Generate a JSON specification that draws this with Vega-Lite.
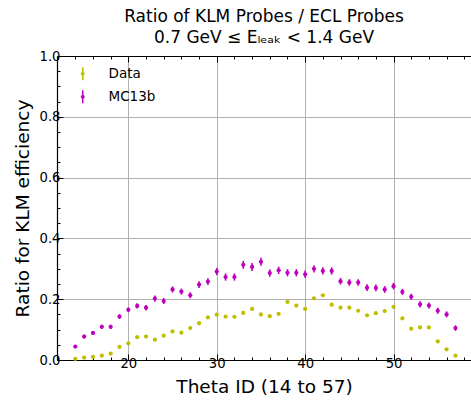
{
  "$schema": "https://vega.github.io/schema/vega-lite/v6.json",
  "autosize": {"type": "none"},
  "padding": {"left": 57, "top": 56, "right": 0, "bottom": 45},
  "width": 414,
  "height": 304,
  "title": {
    "text": ["Ratio of KLM Probes / ECL Probes", "0.7 GeV  ≤ Eₗₑₐₖ < 1.4 GeV"],
    "font": "DejaVu Sans",
    "fontSize": 17,
    "fontWeight": "normal",
    "color": "#000000",
    "anchor": "middle",
    "lineHeight": 21,
    "offset": 2
  },
  "config": {
    "view": {"stroke": null},
    "font": "DejaVu Sans",
    "legend": {
      "symbolType": "M-0.12,-1L0.12,-1L0.12,1L-0.12,1Z M0.3,0A0.3,0.3 0 1 1 -0.3,0A0.3,0.3 0 1 1 0.3,0Z",
      "symbolSize": 169,
      "symbolStrokeWidth": 0,
      "labelFont": "DejaVu Sans",
      "labelFontSize": 13.5,
      "labelColor": "#000000",
      "labelOffset": 19,
      "rowPadding": 8,
      "padding": 0
    }
  },
  "data": {
    "values": [
      {"theta": 14, "ratio": 0.004, "err": 0.002, "sample": "Data"},
      {"theta": 15, "ratio": 0.008, "err": 0.002, "sample": "Data"},
      {"theta": 16, "ratio": 0.010, "err": 0.002, "sample": "Data"},
      {"theta": 17, "ratio": 0.014, "err": 0.002, "sample": "Data"},
      {"theta": 18, "ratio": 0.021, "err": 0.003, "sample": "Data"},
      {"theta": 19, "ratio": 0.043, "err": 0.003, "sample": "Data"},
      {"theta": 20, "ratio": 0.055, "err": 0.003, "sample": "Data"},
      {"theta": 21, "ratio": 0.075, "err": 0.003, "sample": "Data"},
      {"theta": 22, "ratio": 0.077, "err": 0.003, "sample": "Data"},
      {"theta": 23, "ratio": 0.067, "err": 0.003, "sample": "Data"},
      {"theta": 24, "ratio": 0.080, "err": 0.003, "sample": "Data"},
      {"theta": 25, "ratio": 0.094, "err": 0.003, "sample": "Data"},
      {"theta": 26, "ratio": 0.090, "err": 0.003, "sample": "Data"},
      {"theta": 27, "ratio": 0.105, "err": 0.003, "sample": "Data"},
      {"theta": 28, "ratio": 0.121, "err": 0.003, "sample": "Data"},
      {"theta": 29, "ratio": 0.140, "err": 0.003, "sample": "Data"},
      {"theta": 30, "ratio": 0.149, "err": 0.003, "sample": "Data"},
      {"theta": 31, "ratio": 0.143, "err": 0.003, "sample": "Data"},
      {"theta": 32, "ratio": 0.142, "err": 0.003, "sample": "Data"},
      {"theta": 33, "ratio": 0.155, "err": 0.003, "sample": "Data"},
      {"theta": 34, "ratio": 0.168, "err": 0.003, "sample": "Data"},
      {"theta": 35, "ratio": 0.150, "err": 0.003, "sample": "Data"},
      {"theta": 36, "ratio": 0.144, "err": 0.003, "sample": "Data"},
      {"theta": 37, "ratio": 0.152, "err": 0.003, "sample": "Data"},
      {"theta": 38, "ratio": 0.191, "err": 0.003, "sample": "Data"},
      {"theta": 39, "ratio": 0.179, "err": 0.003, "sample": "Data"},
      {"theta": 40, "ratio": 0.168, "err": 0.003, "sample": "Data"},
      {"theta": 41, "ratio": 0.203, "err": 0.003, "sample": "Data"},
      {"theta": 42, "ratio": 0.213, "err": 0.003, "sample": "Data"},
      {"theta": 43, "ratio": 0.182, "err": 0.003, "sample": "Data"},
      {"theta": 44, "ratio": 0.172, "err": 0.003, "sample": "Data"},
      {"theta": 45, "ratio": 0.172, "err": 0.003, "sample": "Data"},
      {"theta": 46, "ratio": 0.162, "err": 0.003, "sample": "Data"},
      {"theta": 47, "ratio": 0.147, "err": 0.003, "sample": "Data"},
      {"theta": 48, "ratio": 0.154, "err": 0.003, "sample": "Data"},
      {"theta": 49, "ratio": 0.161, "err": 0.003, "sample": "Data"},
      {"theta": 50, "ratio": 0.175, "err": 0.003, "sample": "Data"},
      {"theta": 51, "ratio": 0.137, "err": 0.003, "sample": "Data"},
      {"theta": 52, "ratio": 0.103, "err": 0.003, "sample": "Data"},
      {"theta": 53, "ratio": 0.107, "err": 0.003, "sample": "Data"},
      {"theta": 54, "ratio": 0.107, "err": 0.003, "sample": "Data"},
      {"theta": 55, "ratio": 0.061, "err": 0.003, "sample": "Data"},
      {"theta": 56, "ratio": 0.035, "err": 0.002, "sample": "Data"},
      {"theta": 57, "ratio": 0.014, "err": 0.002, "sample": "Data"},
      {"theta": 14, "ratio": 0.044, "err": 0.005, "sample": "MC13b"},
      {"theta": 15, "ratio": 0.077, "err": 0.006, "sample": "MC13b"},
      {"theta": 16, "ratio": 0.089, "err": 0.006, "sample": "MC13b"},
      {"theta": 17, "ratio": 0.109, "err": 0.007, "sample": "MC13b"},
      {"theta": 18, "ratio": 0.109, "err": 0.007, "sample": "MC13b"},
      {"theta": 19, "ratio": 0.143, "err": 0.008, "sample": "MC13b"},
      {"theta": 20, "ratio": 0.165, "err": 0.008, "sample": "MC13b"},
      {"theta": 21, "ratio": 0.178, "err": 0.009, "sample": "MC13b"},
      {"theta": 22, "ratio": 0.172, "err": 0.009, "sample": "MC13b"},
      {"theta": 23, "ratio": 0.202, "err": 0.010, "sample": "MC13b"},
      {"theta": 24, "ratio": 0.194, "err": 0.010, "sample": "MC13b"},
      {"theta": 25, "ratio": 0.232, "err": 0.010, "sample": "MC13b"},
      {"theta": 26, "ratio": 0.225, "err": 0.010, "sample": "MC13b"},
      {"theta": 27, "ratio": 0.213, "err": 0.010, "sample": "MC13b"},
      {"theta": 28, "ratio": 0.248, "err": 0.011, "sample": "MC13b"},
      {"theta": 29, "ratio": 0.258, "err": 0.011, "sample": "MC13b"},
      {"theta": 30, "ratio": 0.291, "err": 0.012, "sample": "MC13b"},
      {"theta": 31, "ratio": 0.273, "err": 0.012, "sample": "MC13b"},
      {"theta": 32, "ratio": 0.273, "err": 0.012, "sample": "MC13b"},
      {"theta": 33, "ratio": 0.313, "err": 0.013, "sample": "MC13b"},
      {"theta": 34, "ratio": 0.306, "err": 0.013, "sample": "MC13b"},
      {"theta": 35, "ratio": 0.323, "err": 0.013, "sample": "MC13b"},
      {"theta": 36, "ratio": 0.286, "err": 0.012, "sample": "MC13b"},
      {"theta": 37, "ratio": 0.295, "err": 0.012, "sample": "MC13b"},
      {"theta": 38, "ratio": 0.287, "err": 0.012, "sample": "MC13b"},
      {"theta": 39, "ratio": 0.287, "err": 0.012, "sample": "MC13b"},
      {"theta": 40, "ratio": 0.282, "err": 0.012, "sample": "MC13b"},
      {"theta": 41, "ratio": 0.300, "err": 0.012, "sample": "MC13b"},
      {"theta": 42, "ratio": 0.293, "err": 0.012, "sample": "MC13b"},
      {"theta": 43, "ratio": 0.293, "err": 0.012, "sample": "MC13b"},
      {"theta": 44, "ratio": 0.259, "err": 0.011, "sample": "MC13b"},
      {"theta": 45, "ratio": 0.255, "err": 0.011, "sample": "MC13b"},
      {"theta": 46, "ratio": 0.255, "err": 0.011, "sample": "MC13b"},
      {"theta": 47, "ratio": 0.238, "err": 0.011, "sample": "MC13b"},
      {"theta": 48, "ratio": 0.237, "err": 0.011, "sample": "MC13b"},
      {"theta": 49, "ratio": 0.232, "err": 0.011, "sample": "MC13b"},
      {"theta": 50, "ratio": 0.243, "err": 0.011, "sample": "MC13b"},
      {"theta": 51, "ratio": 0.224, "err": 0.010, "sample": "MC13b"},
      {"theta": 52, "ratio": 0.208, "err": 0.010, "sample": "MC13b"},
      {"theta": 53, "ratio": 0.183, "err": 0.010, "sample": "MC13b"},
      {"theta": 54, "ratio": 0.179, "err": 0.010, "sample": "MC13b"},
      {"theta": 55, "ratio": 0.162, "err": 0.010, "sample": "MC13b"},
      {"theta": 56, "ratio": 0.150, "err": 0.010, "sample": "MC13b"},
      {"theta": 57, "ratio": 0.105, "err": 0.009, "sample": "MC13b"}
    ]
  },
  "layer": [
    {
      "encoding": {
        "x": {
          "field": "theta",
          "type": "quantitative",
          "scale": {"domain": [11.93, 58.76], "nice": false, "zero": false},
          "axis": {
            "title": "Theta ID (14 to 57)",
            "titleFont": "DejaVu Sans",
            "titleFontSize": 18.5,
            "titleFontWeight": "normal",
            "titleColor": "#000000",
            "titlePadding": 8,
            "values": [12, 14, 16, 18, 20, 22, 24, 26, 28, 30, 32, 34, 36, 38, 40, 42, 44, 46, 48, 50, 52, 54, 56, 58],
            "labelExpr": "datum.value % 10 == 0 ? datum.label : ''",
            "labelFont": "DejaVu Sans",
            "labelFontSize": 13.2,
            "labelColor": "#000000",
            "labelPadding": 3,
            "labelFlush": false,
            "domainColor": "#000000",
            "domainWidth": 1.2,
            "tickColor": "#000000",
            "tickSize": {"condition": {"test": "datum.value % 10 == 0", "value": -6}, "value": -3},
            "grid": true,
            "gridColor": "#b0b0b0",
            "gridWidth": 1,
            "gridOpacity": {"condition": {"test": "datum.value % 10 == 0", "value": 1}, "value": 0}
          }
        },
        "y": {
          "field": "ratio",
          "type": "quantitative",
          "scale": {"domain": [0, 1], "nice": false},
          "axis": {
            "title": "Ratio for KLM efficiency",
            "titleFont": "DejaVu Sans",
            "titleFontSize": 18.5,
            "titleFontWeight": "normal",
            "titleColor": "#000000",
            "titlePadding": 7,
            "values": [0, 0.05, 0.1, 0.15, 0.2, 0.25, 0.3, 0.35, 0.4, 0.45, 0.5, 0.55, 0.6, 0.65, 0.7, 0.75, 0.8, 0.85, 0.9, 0.95, 1.0],
            "format": ".1f",
            "labelExpr": "abs(datum.value * 5 - round(datum.value * 5)) < 0.001 ? datum.label : ''",
            "labelFont": "DejaVu Sans",
            "labelFontSize": 13.2,
            "labelColor": "#000000",
            "labelPadding": 3,
            "labelFlush": false,
            "domainColor": "#000000",
            "domainWidth": 1.2,
            "tickColor": "#000000",
            "tickSize": {"condition": {"test": "abs(datum.value * 5 - round(datum.value * 5)) < 0.001", "value": -6}, "value": -3},
            "grid": true,
            "gridColor": "#b0b0b0",
            "gridWidth": 1,
            "gridOpacity": {"condition": {"test": "abs(datum.value * 5 - round(datum.value * 5)) < 0.001", "value": 1}, "value": 0}
          }
        },
        "color": {
          "field": "sample",
          "type": "nominal",
          "scale": {"domain": ["Data", "MC13b"], "range": ["#bfbf00", "#bf00bf"]},
          "legend": {"title": null, "orient": "none", "legendX": 19, "legendY": 11}
        }
      },
      "layer": [
        {
          "mark": {"type": "errorbar", "ticks": false, "thickness": 1.6},
          "encoding": {"yError": {"field": "err"}}
        },
        {
          "mark": {"type": "point", "filled": true, "opacity": 1, "size": 18, "shape": "circle"}
        }
      ]
    },
    {
      "mark": {"type": "tick", "opacity": 0},
      "encoding": {
        "x": {
          "field": "theta",
          "type": "quantitative",
          "scale": {"domain": [11.93, 58.76], "nice": false, "zero": false},
          "axis": {
            "orient": "top",
            "title": null,
            "values": [12, 14, 16, 18, 20, 22, 24, 26, 28, 30, 32, 34, 36, 38, 40, 42, 44, 46, 48, 50, 52, 54, 56, 58],
            "labels": false,
            "domain": true,
            "domainColor": "#000000",
            "domainWidth": 1.2,
            "ticks": true,
            "tickColor": "#000000",
            "tickSize": {"condition": {"test": "datum.value % 10 == 0", "value": -6}, "value": -3},
            "grid": false
          }
        }
      }
    }
  ],
  "resolve": {"axis": {"x": "independent"}}
}
